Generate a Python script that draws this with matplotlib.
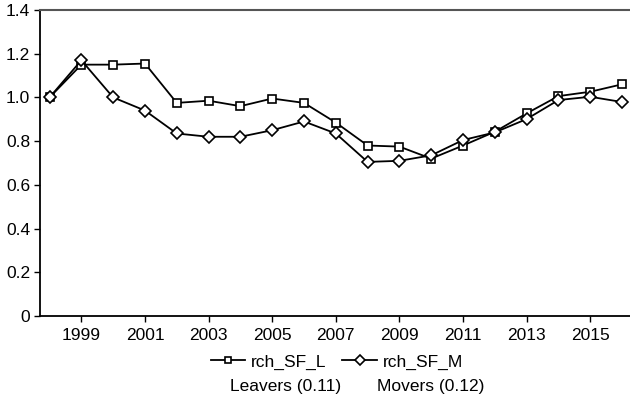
import matplotlib
matplotlib.use("Agg")
import matplotlib.pyplot as plt

plt.rcParams['font.family'] = ['Liberation Sans', 'DejaVu Sans']

years = list(range(1998, 2017))
rch_SF_L = [1.0, 1.15, 1.15, 1.155, 0.975, 0.985, 0.96, 0.995, 0.975, 0.885,
            0.78, 0.775, 0.72, 0.78, 0.843, 0.927, 1.006, 1.026, 1.06]
rch_SF_M = [1.0, 1.17, 1.0, 0.94, 0.835, 0.82, 0.82, 0.85, 0.89, 0.835,
            0.705, 0.71, 0.735, 0.805, 0.84, 0.901, 0.988, 1.003, 0.979]
xticks = list(range(1999, 2017, 2))
yticks = [0, 0.2, 0.4, 0.6, 0.8, 1.0, 1.2, 1.4]
ytick_labels = ['0', '0.2', '0.4', '0.6', '0.8', '1.0', '1.2', '1.4']
notes = ['Leavers (0.11)', 'Movers (0.12)']

FS = 12.5

fig = plt.figure(figsize=(6.30, 4.01), dpi=100)
ax = fig.add_axes([40/630, 85/401, 590/630, 306/401])

ax.plot(years, rch_SF_L, color='black', lw=1.3, marker='s', ms=6.2,
        mfc='white', mec='black', mew=1.2, label='rch_SF_L')
ax.plot(years, rch_SF_M, color='black', lw=1.3, marker='D', ms=6.2,
        mfc='white', mec='black', mew=1.2, label='rch_SF_M')

ax.set_xlim(1997.7, 2016.25)
ax.set_ylim(0, 1.4)
ax.set_xticks(xticks)
ax.set_xticklabels([str(y) for y in xticks])
ax.set_yticks(yticks)
ax.set_yticklabels(ytick_labels)
ax.tick_params(axis='both', direction='out', length=4, width=1, labelsize=FS, pad=3)
ax.tick_params(axis='x', pad=5)
ax.spines['right'].set_visible(False)
ax.spines['top'].set_color('#555555')
ax.spines['top'].set_linewidth(1.5)
ax.spines['left'].set_linewidth(1.3)
ax.spines['bottom'].set_linewidth(1.3)

fig.legend(loc='center', bbox_to_anchor=(337/630, 1 - 362/401), ncol=2,
           frameon=False, fontsize=FS, handlelength=2.0, columnspacing=0.9,
           handletextpad=0.35, markerscale=0.75, borderpad=0)
fig.text(286/630, 1 - 386/401, notes[0], ha='center', va='center', fontsize=FS)
fig.text(431/630, 1 - 386/401, notes[1], ha='center', va='center', fontsize=FS)

fig.savefig('out.png', dpi=100)
